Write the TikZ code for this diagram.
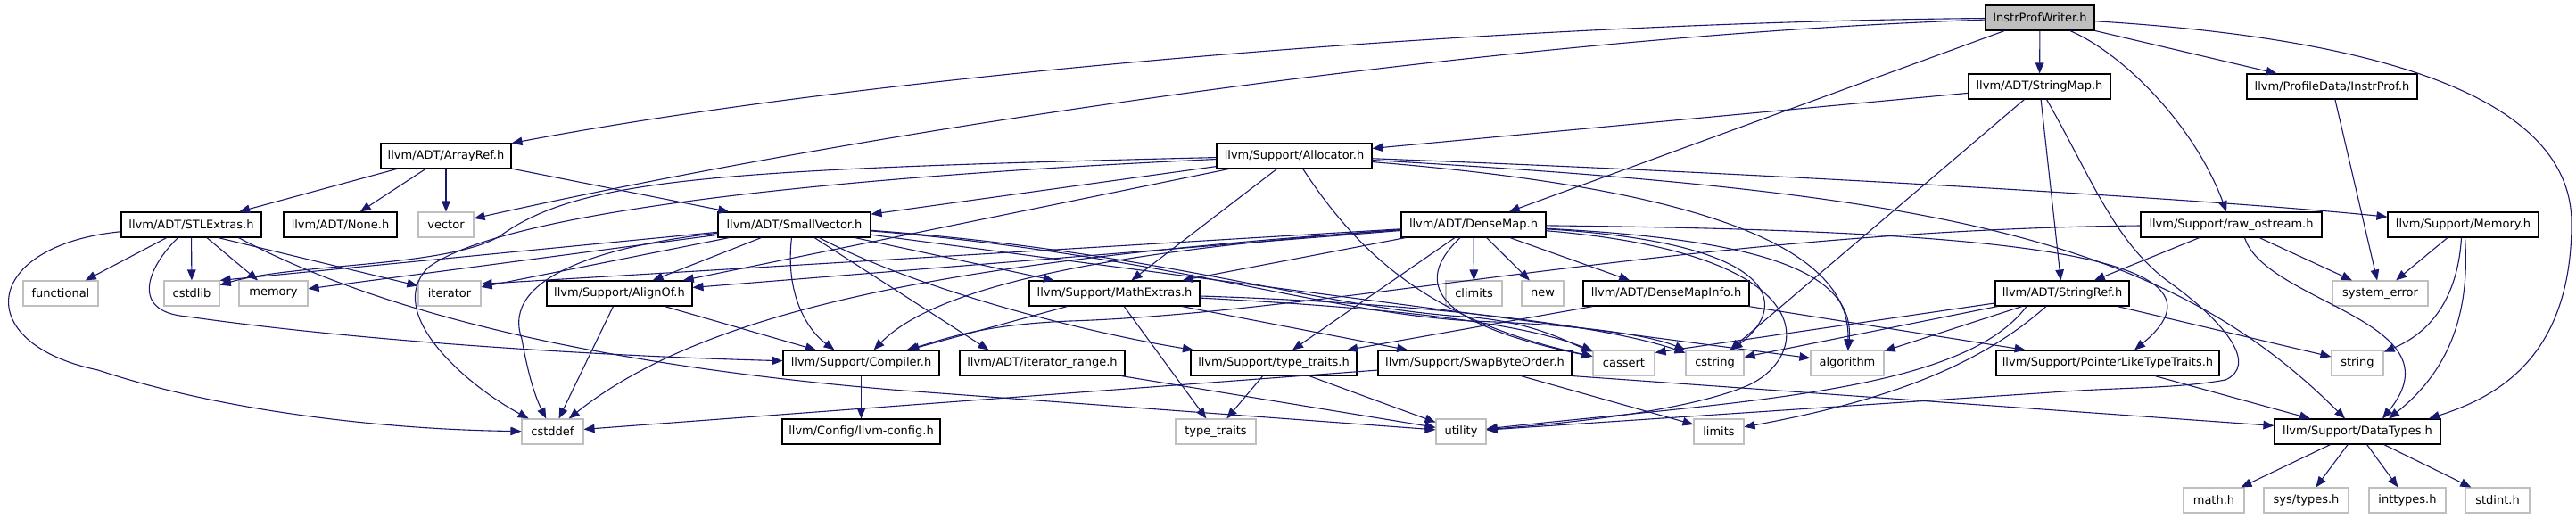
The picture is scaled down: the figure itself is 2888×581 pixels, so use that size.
\documentclass[tikz,border=0pt]{standalone}
\usepackage{fontspec}
\setmainfont{DejaVu Sans}
\usetikzlibrary{arrows.meta}
\definecolor{edgeblue}{HTML}{191970}
\definecolor{sysgrey}{HTML}{BFBFBF}
\begin{document}
\begin{tikzpicture}[x=1pt,y=-1pt,
  box/.style={draw=black, line width=1.1pt, fill=white, minimum height=28pt, inner sep=0pt, text=black, font=\fontsize{13}{15}\selectfont},
  doc/.style={box},
  sys/.style={box, draw=sysgrey},
  rootnode/.style={box, fill=sysgrey},
  dep/.style={draw=edgeblue, line width=1.1pt, -{Triangle[length=12pt,width=9.5pt]}},
]
\fill[white] (0,0) rectangle (2888,581);
\useasboundingbox (0,0) rectangle (2888,581);

% rank 0-2
\node[rootnode, minimum width=122pt] (ipw) at (2287,20) {InstrProfWriter.h};
\node[doc, minimum width=159pt] (strmap) at (2286.5,97) {llvm/ADT/StringMap.h};
\node[doc, minimum width=191pt] (instrprof) at (2614.5,97) {llvm/ProfileData/InstrProf.h};
\node[doc, minimum width=146pt] (arrayref) at (500,174.5) {llvm/ADT/ArrayRef.h};
\node[doc, minimum width=174pt] (alloc) at (1451,174.5) {llvm/Support/Allocator.h};
% rank 3
\node[doc, minimum width=157pt] (stlext) at (214.5,252) {llvm/ADT/STLExtras.h};
\node[doc, minimum width=127pt] (none) at (381.5,252) {llvm/ADT/None.h};
\node[sys, minimum width=62pt] (vector) at (500,252) {vector};
\node[doc, minimum width=171pt] (smallvec) at (890.5,252) {llvm/ADT/SmallVector.h};
\node[doc, minimum width=162pt] (densemap) at (1652,252) {llvm/ADT/DenseMap.h};
\node[doc, minimum width=203pt] (rawos) at (2501.5,252) {llvm/Support/raw\_ostream.h};
\node[doc, minimum width=169pt] (memoryh) at (2761.5,252) {llvm/Support/Memory.h};
% rank 4
\node[sys, minimum width=84pt] (functional) at (68,329) {functional};
\node[sys, minimum width=62pt] (cstdlib) at (215,329) {cstdlib};
\node[sys, minimum width=77pt] (memory) at (306.5,329) {memory};
\node[sys, minimum width=70pt] (iterator) at (504,329) {iterator};
\node[doc, minimum width=163pt] (alignof) at (694.5,329) {llvm/Support/AlignOf.h};
\node[doc, minimum width=191pt] (mathext) at (1249.5,329) {llvm/Support/MathExtras.h};
\node[sys, minimum width=63pt] (climits) at (1652.5,329) {climits};
\node[sys, minimum width=47pt] (newh) at (1729.5,329) {new};
\node[doc, minimum width=186pt] (dmi) at (1868,329) {llvm/ADT/DenseMapInfo.h};
\node[doc, minimum width=150pt] (strref) at (2312,329) {llvm/ADT/StringRef.h};
\node[sys, minimum width=107pt] (syserr) at (2668.5,329) {system\_error};
% rank 5
\node[doc, minimum width=175pt] (compiler) at (965.5,407) {llvm/Support/Compiler.h};
\node[doc, minimum width=185pt] (itrange) at (1168.5,407) {llvm/ADT/iterator\_range.h};
\node[doc, minimum width=186pt] (typetraitsh) at (1428,407) {llvm/Support/type\_traits.h};
\node[doc, minimum width=217pt] (swap) at (1653.5,407) {llvm/Support/SwapByteOrder.h};
\node[sys, minimum width=69pt] (cassert) at (1820.5,407) {cassert};
\node[sys, minimum width=65pt] (cstring) at (1922.5,407) {cstring};
\node[sys, minimum width=82pt] (algorithm) at (2071,407) {algorithm};
\node[doc, minimum width=250pt] (plt) at (2363,407) {llvm/Support/PointerLikeTypeTraits.h};
\node[sys, minimum width=58pt] (string) at (2643,407) {string};
% rank 6
\node[sys, minimum width=69pt] (cstddef) at (619.5,484) {cstddef};
\node[doc, minimum width=177pt] (config) at (965.5,484) {llvm/Config/llvm-config.h};
\node[sys, minimum width=90pt] (typetraits) at (1363,484) {type\_traits};
\node[sys, minimum width=56pt] (utility) at (1638,484) {utility};
\node[sys, minimum width=56pt] (limits) at (1927,484) {limits};
\node[doc, minimum width=186pt] (datatypes) at (2643,484) {llvm/Support/DataTypes.h};
% rank 7
\node[sys, minimum width=68pt] (mathh) at (2482,561) {math.h};
\node[sys, minimum width=95pt] (systypes) at (2585.5,561) {sys/types.h};
\node[sys, minimum width=86pt] (inttypes) at (2699,561) {inttypes.h};
\node[sys, minimum width=72pt] (stdint) at (2800,561) {stdint.h};

% InstrProfWriter.h
\draw[dep] (ipw) .. controls (1700,25) and (1000,80) .. (arrayref);
\draw[dep] (ipw) .. controls (1700,40) and (1000,140) .. (vector);
\draw[dep] (ipw) -- (densemap);
\draw[dep] (ipw) -- (strmap);
\draw[dep] (ipw) .. controls (2380,60) and (2460,140) .. (rawos);
\draw[dep] (ipw) -- (instrprof);
\draw[dep] (ipw) .. controls (2700,45) and (2883,120) .. (2883,250) .. controls (2883,400) and (2800,445) .. ([xshift=80pt]datatypes.north);

% StringMap.h
\draw[dep] (strmap) -- (alloc);
\draw[dep] (strmap) -- (strref);
\draw[dep] (strmap) -- (cstring);
\draw[dep] ([xshift=8pt]strmap.south) .. controls (2345,200) and (2370,270) .. (2430,315) .. controls (2500,365) and (2530,410) .. (2495,426) .. controls (2440,436) and (2380,434) .. (2300,440) -- (utility);

% InstrProf.h
\draw[dep] (instrprof) -- (syserr);

% ArrayRef.h
\draw[dep] (arrayref) -- (stlext);
\draw[dep] (arrayref) -- (none);
\draw[dep] (arrayref) -- (vector);
\draw[dep] (arrayref) -- (smallvec);

% Allocator.h
\draw[dep] (alloc) -- (smallvec);
\draw[dep] (alloc) -- (alignof);
\draw[dep] (alloc) -- (mathext);
\draw[dep] (alloc) .. controls (2000,195) and (2500,225) .. (memoryh);
\draw[dep] (alloc) .. controls (2150,215) and (2420,260) .. ([xshift=-14pt]datatypes.north);
\draw[dep] (alloc) .. controls (1950,215) and (2075,290) .. (algorithm);
\draw[dep] (alloc) .. controls (1520,280) and (1600,360) .. (cassert);
\draw[dep] (alloc) .. controls (900,200) and (560,240) .. (480,300) .. controls (430,350) and (520,430) .. (cstddef);
\draw[dep] (alloc) .. controls (800,190) and (650,200) .. (560,265) .. controls (500,300) and (330,295) .. (cstdlib);

% STLExtras.h
\draw[dep] (stlext) .. controls (-20,275) and (-35,385) .. (110,415) .. controls (260,465) and (450,482) .. (cstddef);
\draw[dep] (stlext) -- (functional);
\draw[dep] ([xshift=-15pt]stlext.south) .. controls (165,300) and (145,350) .. (210,355) .. controls (420,385) and (700,400) .. (compiler);
\draw[dep] (stlext) -- (cstdlib);
\draw[dep] (stlext) -- (memory);
\draw[dep] ([xshift=30pt]stlext.south) -- (iterator);
\draw[dep] ([xshift=53pt]stlext.south) .. controls (480,380) and (800,420) .. (1000,437) -- (utility);

% SmallVector.h
\draw[dep] (smallvec) -- ([xshift=-60pt]itrange.north);
\draw[dep] (smallvec) -- (alignof);
\draw[dep] ([xshift=-3pt]smallvec.south) .. controls (880,330) and (905,370) .. ([xshift=-30pt]compiler.north);
\draw[dep] (smallvec) -- (mathext);
\draw[dep] (smallvec) .. controls (1040,330) and (1230,375) .. (typetraitsh);
\draw[dep] (smallvec) -- (algorithm);
\draw[dep] (smallvec) .. controls (1300,282) and (1480,345) .. (1640,355) .. controls (1720,360) and (1760,385) .. (cassert);
\draw[dep] (smallvec) .. controls (1300,285) and (1480,350) .. (1650,360) .. controls (1800,365) and (1860,380) .. (cstring);
\draw[dep] (smallvec) .. controls (680,275) and (560,310) .. (585,380) .. controls (592,420) and (600,445) .. (cstddef);
\draw[dep] (smallvec) -- (cstdlib.north east);
\draw[dep] (smallvec) -- (iterator);
\draw[dep] (smallvec) -- (memory);

% DenseMap.h
\draw[dep] (densemap) -- (dmi);
\draw[dep] (densemap) -- (alignof);
\draw[dep] (densemap) .. controls (1250,280) and (1050,320) .. (compiler);
\draw[dep] (densemap) -- (mathext);
\draw[dep] (densemap) .. controls (2200,258) and (2530,280) .. ([xshift=30pt]plt.north);
\draw[dep] (densemap) -- (typetraitsh);
\draw[dep] (densemap) .. controls (1960,268) and (2080,300) .. (algorithm);
\draw[dep] ([xshift=-15pt]densemap.south) .. controls (1570,330) and (1640,370) .. (cassert);
\draw[dep] (densemap) -- (climits);
\draw[dep] (densemap) .. controls (1100,290) and (800,340) .. (cstddef);
\draw[dep] (densemap) .. controls (1990,272) and (2010,340) .. (cstring);
\draw[dep] (densemap) -- ([yshift=-4pt]iterator.north east);
\draw[dep] (densemap) -- (newh);
\draw[dep] (densemap) .. controls (2050,285) and (2030,400) .. (1960,432) .. controls (1890,462) and (1750,475) .. (utility);

% raw_ostream.h
\draw[dep] (rawos) -- (strref);
\draw[dep] (rawos) .. controls (1900,258) and (1500,350) .. (1200,360) .. controls (1100,364) and (1060,380) .. (compiler);
\draw[dep] ([xshift=15pt]rawos.south) .. controls (2540,340) and (2760,360) .. ([xshift=28pt]datatypes.north);
\draw[dep] (rawos) -- (syserr);

% Memory.h
\draw[dep] (memoryh) -- (syserr);
\draw[dep] ([xshift=-2pt]memoryh.south) .. controls (2755,340) and (2720,375) .. (string);
\draw[dep] ([xshift=2pt]memoryh.south) .. controls (2770,360) and (2740,420) .. ([xshift=35pt]datatypes.north);

% AlignOf.h
\draw[dep] (alignof) -- (compiler);
\draw[dep] (alignof) -- (cstddef);

% MathExtras.h
\draw[dep] (mathext) -- (compiler);
\draw[dep] (mathext) -- (swap);
\draw[dep] (mathext) .. controls (1550,345) and (1700,360) .. (cassert);
\draw[dep] (mathext) .. controls (1600,340) and (1800,365) .. (cstring);
\draw[dep] (mathext) -- (typetraits);

% DenseMapInfo.h
\draw[dep] (dmi) -- (plt);
\draw[dep] (dmi) -- (typetraitsh);

% StringRef.h
\draw[dep] (strref) -- (algorithm);
\draw[dep] (strref) -- ([yshift=-3pt]cassert.north east);
\draw[dep] (strref) -- (cstring);
\draw[dep] ([xshift=-18pt]strref.south) .. controls (2230,400) and (2140,445) .. (limits);
\draw[dep] ([xshift=-40pt]strref.south) .. controls (2200,440) and (1950,450) .. (utility);
\draw[dep] (strref) -- (string);

% others
\draw[dep] (compiler) -- (config);
\draw[dep] (itrange) -- (utility);
\draw[dep] (typetraitsh) -- (typetraits);
\draw[dep] (typetraitsh) -- (utility);
\draw[dep] (swap) -- (cstddef);
\draw[dep] (swap.south east) -- (datatypes);
\draw[dep] (swap) -- (limits);
\draw[dep] (plt) -- (datatypes);
\draw[dep] (datatypes) -- (mathh);
\draw[dep] (datatypes) -- (systypes);
\draw[dep] (datatypes) -- (inttypes);
\draw[dep] (datatypes) -- (stdint);
\end{tikzpicture}
\end{document}
